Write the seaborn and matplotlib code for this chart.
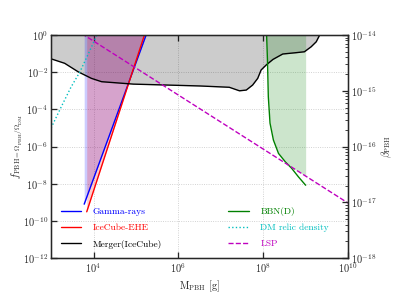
import numpy as np
import matplotlib
matplotlib.use("Agg")
import matplotlib.pyplot as plt
from matplotlib.ticker import NullLocator
import seaborn as sns

# ── data (log10 values) ─────────────────────────────────────
gamma_logm = [3.78, 5.24]
gamma_logf = [-9.10, 0.0]

icecube_logm = [3.84, 5.20]
icecube_logf = [-9.51, 0.0]

merger_logm = [3.0, 3.32, 3.64, 3.95, 4.19, 4.94, 5.73, 6.51, 7.20, 7.44,
               7.60, 7.75, 7.87, 7.95, 8.07, 8.23, 8.46, 8.77, 8.97, 9.13,
               9.25, 9.33]
merger_logf = [-1.28, -1.52, -1.98, -2.33, -2.51, -2.64, -2.69, -2.74, -2.81,
               -3.00, -2.96, -2.69, -2.33, -1.88, -1.61, -1.31, -1.02, -0.95,
               -0.90, -0.63, -0.36, 0.0]

bbn_logm = [8.08, 8.10, 8.12, 8.16, 8.24, 8.36, 8.52, 8.67, 8.83, 9.0]
bbn_logf = [0.0, -1.35, -3.32, -4.74, -5.65, -6.37, -6.82, -7.17, -7.63, -8.08]

relic_logm = [3.0, 3.24, 3.47, 3.68, 3.87, 4.08]
relic_logf = [-5.0, -3.86, -2.80, -1.98, -1.05, 0.0]

lsp_logm = [3.0, 10.0]
lsp_logf = [1.13, -9.04]


def to_lin(a):
    return 10.0 ** np.asarray(a, dtype=float)


# ── style ───────────────────────────────────────────────────
sns.set_style("ticks")
plt.rcParams["font.family"] = "serif"
plt.rcParams["font.serif"] = ["cmr10"]
plt.rcParams["mathtext.fontset"] = "cm"
plt.rcParams["axes.unicode_minus"] = False
plt.rcParams["axes.formatter.use_mathtext"] = True
plt.rcParams["axes.linewidth"] = 1.5

fig, ax = plt.subplots(figsize=(6.4, 4.8), dpi=61.875)
fig.subplots_adjust(left=0.129, right=0.879, bottom=0.131, top=0.882)
ax.set_xscale("log")
ax.set_yscale("log")

# shaded regions
ax.fill_between(to_lin(merger_logm), to_lin(merger_logf), 1.0,
                color="k", alpha=0.2, lw=0)
ax.fill_between(to_lin(gamma_logm), to_lin(gamma_logf), 1.0,
                color="b", alpha=0.2, lw=0)
ax.fill_between(to_lin(icecube_logm), to_lin(icecube_logf), 1.0,
                color="r", alpha=0.2, lw=0)
lsp_at_bbn = np.interp(bbn_logm, lsp_logm, lsp_logf)
ax.fill_between(to_lin(bbn_logm), to_lin(np.maximum(bbn_logf, lsp_at_bbn)), 1.0,
                color="g", alpha=0.2, lw=0)

# curves
common = dict(ax=ax, sort=False, estimator=None, lw=1.6)
sns.lineplot(x=to_lin(gamma_logm), y=to_lin(gamma_logf), color="b",
             label="Gamma-rays", **common)
sns.lineplot(x=to_lin(icecube_logm), y=to_lin(icecube_logf), color="r",
             label="IceCube-EHE", **common)
sns.lineplot(x=to_lin(merger_logm), y=to_lin(merger_logf), color="k",
             label="Merger(IceCube)", **common)
sns.lineplot(x=to_lin(bbn_logm), y=to_lin(bbn_logf), color="g",
             label="BBN(D)", **common)
sns.lineplot(x=to_lin(relic_logm), y=to_lin(relic_logf), color="c",
             linestyle=":", label="DM relic density", **common)
sns.lineplot(x=to_lin(lsp_logm), y=to_lin(lsp_logf), color="m",
             linestyle="--", label="LSP", **common)

ax.set_xlim(1e3, 1e10)
ax.set_ylim(1e-12, 1e0)
ax.set_xticks([1e4, 1e6, 1e8, 1e10])
ax.set_yticks([1e-12, 1e-10, 1e-8, 1e-6, 1e-4, 1e-2, 1e0])
ax.xaxis.set_minor_locator(NullLocator())
ax.yaxis.set_minor_locator(NullLocator())
ax.tick_params(which="major", direction="in", top=True, right=False,
               length=7, width=1.5, labelsize=12)
ax.grid(True, which="major", linestyle=":", color="0.78", lw=1)

ax.set_xlabel(r"M$_{\rm PBH}$ [g]", fontsize=12, labelpad=5)
ax.set_ylabel(r"$f_{\rm PBH=\Omega_{PBH}/\Omega_{DM}}$", fontsize=12,
              labelpad=-2)

ax.legend(loc="lower left", ncol=2, frameon=False, labelcolor="linecolor",
          fontsize=11, columnspacing=7.0, handlelength=2.2, labelspacing=0.8,
          handletextpad=1.2, borderaxespad=0.6)

ax2 = ax.twinx()
ax2.set_yscale("log")
ax2.set_ylim(1e-18, 1e-14)
ax2.tick_params(which="major", direction="in", length=7, width=1.5,
                labelsize=12)
ax2.tick_params(which="minor", direction="in", length=3.5, width=1)
ax2.set_ylabel(r"$\beta_{\rm PBH}$", fontsize=12)

fig.savefig("out.png", dpi=61.875)
